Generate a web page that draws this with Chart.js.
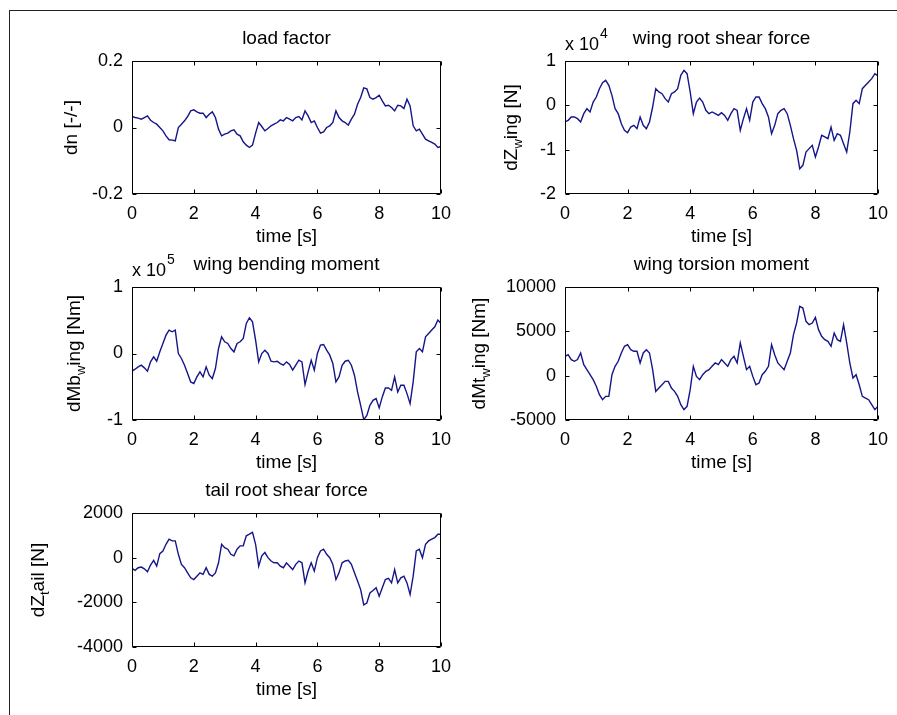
<!DOCTYPE html>
<html>
<head>
<meta charset="utf-8">
<script src="https://cdn.jsdelivr.net/npm/chart.js@4.4.0/dist/chart.umd.min.js"></script>
<style>
  html, body { margin: 0; padding: 0; background: #fff; }
  #fig { position: relative; width: 897px; height: 715px; overflow: hidden; background: #fff; }
  #frame { position: absolute; left: 9px; top: 10px; width: 900px; height: 720px;
           border-top: 1px solid #222; border-left: 1px solid #222; }
  canvas { position: absolute; }
</style>
</head>
<body>
<div id="fig">
  <div id="frame"></div>
  <canvas id="c1" style="left:0px;top:11px" width="460" height="238"></canvas>
  <canvas id="c2" style="left:450px;top:11px" width="447" height="238"></canvas>
  <canvas id="c3" style="left:0px;top:237px" width="460" height="238"></canvas>
  <canvas id="c4" style="left:450px;top:237px" width="447" height="238"></canvas>
  <canvas id="c5" style="left:0px;top:463px" width="460" height="239"></canvas>
</div>
<script>
// time axis, 0 .. 10 s
const timeS = [
  0, 0.1, 0.2, 0.3, 0.4, 0.5, 0.6, 0.7, 0.8, 0.9,
  1, 1.1, 1.2, 1.3, 1.4, 1.5, 1.6, 1.7, 1.8, 1.9,
  2, 2.1, 2.2, 2.3, 2.4, 2.5, 2.6, 2.7, 2.8, 2.9,
  3, 3.1, 3.2, 3.3, 3.4, 3.5, 3.6, 3.7, 3.8, 3.9,
  4, 4.1, 4.2, 4.3, 4.4, 4.5, 4.6, 4.7, 4.8, 4.9,
  5, 5.1, 5.2, 5.3, 5.4, 5.5, 5.6, 5.7, 5.8, 5.9,
  6, 6.1, 6.2, 6.3, 6.4, 6.5, 6.6, 6.7, 6.8, 6.9,
  7, 7.1, 7.2, 7.3, 7.4, 7.5, 7.6, 7.7, 7.8, 7.9,
  8, 8.1, 8.2, 8.3, 8.4, 8.5, 8.6, 8.7, 8.8, 8.9,
  9, 9.1, 9.2, 9.3, 9.4, 9.5, 9.6, 9.7, 9.8, 9.9,
  10
];

// load factor dn [-]
const loadFactor = [
  0.033, 0.030, 0.028, 0.025, 0.030, 0.035, 0.022, 0.015, 0.010, 0.000,
  -0.010, -0.025, -0.037, -0.038, -0.040, 0.000, 0.010, 0.020, 0.033, 0.050,
  0.053, 0.047, 0.043, 0.043, 0.030, 0.040, 0.047, 0.030, -0.005, -0.025,
  -0.020, -0.017, -0.010, -0.007, -0.020, -0.025, -0.043, -0.053, -0.060, -0.053,
  -0.017, 0.015, 0.003, -0.010, -0.003, 0.005, 0.010, 0.015, 0.023, 0.020,
  0.030, 0.025, 0.020, 0.030, 0.033, 0.023, 0.050, 0.035, 0.015, 0.020,
  0.000, -0.017, -0.013, 0.000, 0.005, 0.015, 0.050, 0.030, 0.020, 0.015,
  0.007, 0.025, 0.040, 0.070, 0.090, 0.119, 0.116, 0.090, 0.085, 0.090,
  0.097, 0.080, 0.065, 0.067, 0.060, 0.050, 0.067, 0.065, 0.057, 0.085,
  0.065, 0.005, -0.010, -0.005, -0.020, -0.035, -0.040, -0.045, -0.050, -0.060,
  -0.057
];

// wing root shear force [N]
const wingShear = [
  -3760, -3380, -2630, -2630, -3010, -3760, -1880, -750, -1500, 750,
  1880, 3760, 5110, 5640, 4510, 2260, -750, -1880, -4140, -5640,
  -6170, -4890, -4510, -5260, -2630, -4510, -5260, -3760, -380, 3760,
  3010, 2630, 1500, 750, 2630, 3010, 3760, 6770, 7900, 7140,
  3010, -1880, 750, 1650, 750, -1130, -1880, -1500, -1880, -2260,
  -1650, -2260, -3380, -1880, -750, -1130, -5640, -3010, -750, -3380,
  750, 1880, 1880, 380, -750, -2630, -6390, -4510, -1880, -1130,
  -750, -1880, -4510, -7520, -10150, -14290, -13530, -10530, -9770, -9020,
  -11650, -9400, -6770, -7140, -7520, -4890, -7900, -6390, -6770, -8650,
  -10530, -6020, 380, 1130, 380, 3760, 4510, 5260, 6020, 7140,
  6620
];

// wing bending moment [Nm]
const wingBending = [
  -26600, -23600, -20100, -17600, -21600, -26600, -12600, -5000, -11600, 2500,
  15100, 27600, 35200, 32700, 35200, 0, -7500, -17600, -30200, -42700,
  -45200, -35200, -27600, -35200, -20100, -32700, -37700, -22600, 7500, 25100,
  17600, 15100, 7500, 2500, 15100, 17600, 22600, 45200, 53800, 47700,
  20100, -12600, 0, 5000, 0, -11600, -12600, -11600, -15100, -17600,
  -12600, -16600, -25100, -17600, -10100, -12600, -46700, -27600, -10100, -25100,
  0, 12600, 13600, 5000, -2500, -15100, -42700, -35200, -17600, -11600,
  -10100, -17600, -32700, -57800, -77900, -99500, -93000, -77900, -70400, -67800,
  -81900, -65300, -51800, -51800, -55300, -35200, -57800, -47700, -47700, -60300,
  -75400, -42700, 2500, 7500, 2500, 25100, 30200, 35200, 40200, 50300,
  45200
];

// wing torsion moment [Nm]
const wingTorsion = [
  2180, 2370, 1810, 1620, 1810, 2560, 1240, 680, 110, -450,
  -1200, -2140, -2710, -2330, -2330, 110, 1050, 1620, 2560, 3310,
  3500, 2930, 2750, 2750, 1430, 2560, 2930, 2560, 680, -1770,
  -1390, -1020, -640, -640, -1390, -1770, -2330, -3270, -3840, -3460,
  -1580, 1050, -80, -450, 110, 490, 680, 1050, 1430, 1240,
  1810, 1430, 1050, 1810, 2180, 1430, 3690, 2180, 680, 1050,
  -80, -1020, -830, 110, 490, 1050, 3500, 2370, 1430, 1050,
  680, 1620, 2560, 4630, 5940, 7820, 7630, 6130, 5750, 5940,
  6580, 5190, 4440, 4060, 3870, 3310, 4810, 4060, 3870, 5750,
  3690, 1430, -260, 110, -1020, -2330, -2520, -2710, -3270, -3840,
  -3460
];

// tail root shear force [N]
const tailShear = [
  -480, -570, -450, -420, -500, -630, -330, -120, -380, 180,
  300, 600, 830, 750, 750, 150, -300, -450, -680, -900,
  -980, -830, -680, -750, -450, -750, -830, -680, -230, 600,
  450, 380, 150, 80, 380, 530, 530, 980, 1050, 1130,
  600, -380, 80, 230, 0, -150, -230, -230, -380, -450,
  -230, -380, -530, -300, -150, -230, -1130, -600, -230, -600,
  0, 300, 380, 150, 0, -300, -980, -680, -230, -150,
  -120, -300, -680, -1050, -1430, -2110, -2030, -1580, -1470, -1350,
  -1730, -1350, -980, -930, -1130, -530, -1130, -900, -830, -1130,
  -1650, -830, 300, 380, 0, 600, 750, 830, 900, 1050,
  1050
];

// tick positions
const timeTicks = [0, 2, 4, 6, 8, 10];
const loadTicks = [-0.2, 0, 0.2];
const shearTicks = [-20000, -10000, 0, 10000];
const bendingTicks = [-100000, 0, 100000];
const torsionTicks = [-5000, 0, 5000, 10000];
const tailTicks = [-4000, -2000, 0, 2000];

const FONT = '"Liberation Sans", Arial, sans-serif';
const LINE = '#15158a';

// box with inward ticks, title, axis labels, exponent
const matlabAxes = {
  id: 'matlabAxes',
  afterDraw(chart, args, o) {
    const { ctx, chartArea: a, scales } = chart;
    const L = Math.round(a.left) + 0.5, T = Math.round(a.top) + 0.5;
    const R = Math.round(a.right) - 0.5, B = Math.round(a.bottom) - 0.5;
    ctx.save();
    ctx.strokeStyle = '#000';
    ctx.lineWidth = 1;
    ctx.beginPath();
    ctx.rect(L, T, R - L, B - T);
    scales.x.ticks.forEach(t => {
      const px = Math.round(scales.x.getPixelForValue(t.value)) + 0.5;
      ctx.moveTo(px, B); ctx.lineTo(px, B - 4);
      ctx.moveTo(px, T); ctx.lineTo(px, T + 4);
    });
    scales.y.ticks.forEach(t => {
      const py = Math.round(scales.y.getPixelForValue(t.value)) + 0.5;
      ctx.moveTo(L, py); ctx.lineTo(L + 4, py);
      ctx.moveTo(R, py); ctx.lineTo(R - 4, py);
    });
    ctx.stroke();

    ctx.fillStyle = '#000';
    ctx.textAlign = 'center';
    ctx.textBaseline = 'middle';
    ctx.font = '19px ' + FONT;
    ctx.fillText(o.title, (a.left + a.right) / 2, a.top - 22);
    ctx.fillText('time [s]', (a.left + a.right) / 2, a.bottom + 43);

    if (o.exponent) {
      ctx.textAlign = 'left';
      ctx.font = '18px ' + FONT;
      ctx.fillText('x 10', a.left, a.top - 16);
      const w = ctx.measureText('x 10').width;
      ctx.font = '14px ' + FONT;
      ctx.fillText(o.exponent, a.left + w + 1, a.top - 27);
    }

    // rotated y label, with TeX-style subscript
    const [main, sub, rest] = o.ylabel;
    ctx.translate(o.ylabelX, (a.top + a.bottom) / 2);
    ctx.rotate(-Math.PI / 2);
    ctx.textAlign = 'left';
    const big = '19px ' + FONT, small = '13px ' + FONT;
    ctx.font = big;
    const w1 = ctx.measureText(main).width, w3 = ctx.measureText(rest).width;
    ctx.font = small;
    const w2 = sub ? ctx.measureText(sub).width : 0;
    let x = -(w1 + w2 + w3) / 2;
    ctx.font = big;
    ctx.fillText(main, x, 0);
    x += w1;
    if (sub) {
      ctx.font = small;
      ctx.fillText(sub, x, 6);
      x += w2;
    }
    ctx.font = big;
    ctx.fillText(rest, x, 0);
    ctx.restore();
  }
};

function subplot(id, o) {
  const tickFont = { family: FONT, size: 18 };
  return new Chart(document.getElementById(id), {
    type: 'line',
    data: {
      datasets: [{
        data: timeS.map((t, i) => ({ x: t, y: o.values[i] })),
        borderColor: LINE,
        borderWidth: 1.4,
        pointRadius: 0,
        tension: 0,
        fill: false
      }]
    },
    options: {
      responsive: false,
      animation: false,
      devicePixelRatio: 1,
      events: [],
      layout: { padding: { top: 50, left: 0, right: o.padRight, bottom: 0 } },
      plugins: {
        legend: { display: false },
        tooltip: { enabled: false },
        matlabAxes: { title: o.title, ylabel: o.ylabel, ylabelX: o.ylabelX, exponent: o.exponent }
      },
      scales: {
        x: {
          type: 'linear',
          min: 0,
          max: 10,
          afterBuildTicks: s => { s.ticks = timeTicks.map(v => ({ value: v })); },
          afterFit: s => { s.height = 55; },
          grid: { display: false, drawTicks: false },
          border: { display: false },
          ticks: { font: tickFont, color: '#000', padding: 9, maxRotation: 0, callback: v => String(v) }
        },
        y: {
          type: 'linear',
          min: o.ticks[0],
          max: o.ticks[o.ticks.length - 1],
          afterBuildTicks: s => { s.ticks = o.ticks.map(v => ({ value: v })); },
          afterFit: s => { s.width = o.axisWidth; },
          grid: { display: false, drawTicks: false },
          border: { display: false },
          ticks: { font: tickFont, color: '#000', padding: 9, callback: v => String(v / o.scale) }
        }
      }
    },
    plugins: [matlabAxes]
  });
}

subplot('c1', { values: loadFactor, ticks: loadTicks, scale: 1, title: 'load factor',
  ylabel: ['dn [-/-]', '', ''], ylabelX: 72, axisWidth: 132, padRight: 17 });
subplot('c2', { values: wingShear, ticks: shearTicks, scale: 1e4, title: 'wing root shear force',
  ylabel: ['dZ', 'w', 'ing [N]'], ylabelX: 62, axisWidth: 115, padRight: 19, exponent: '4' });
subplot('c3', { values: wingBending, ticks: bendingTicks, scale: 1e5, title: 'wing bending moment',
  ylabel: ['dMb', 'w', 'ing [Nm]'], ylabelX: 75, axisWidth: 132, padRight: 17, exponent: '5' });
subplot('c4', { values: wingTorsion, ticks: torsionTicks, scale: 1, title: 'wing torsion moment',
  ylabel: ['dMt', 'w', 'ing [Nm]'], ylabelX: 30, axisWidth: 115, padRight: 19 });
subplot('c5', { values: tailShear, ticks: tailTicks, scale: 1, title: 'tail root shear force',
  ylabel: ['dZ', 't', 'ail [N]'], ylabelX: 39, axisWidth: 132, padRight: 17 });
</script>
</body>
</html>
